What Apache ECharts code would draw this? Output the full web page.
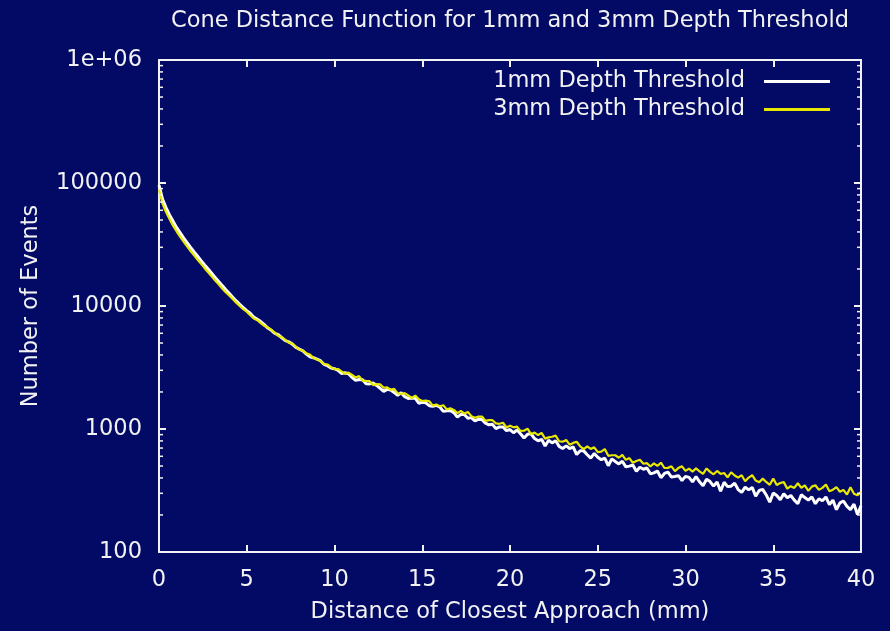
<!DOCTYPE html>
<html>
<head>
<meta charset="utf-8">
<title>Cone Distance Function</title>
<script src="https://cdn.jsdelivr.net/npm/echarts@6/dist/echarts.min.js"></script>
<style>
  html, body { margin: 0; padding: 0; background: #020a66; }
  #chart { width: 890px; height: 631px; }
</style>
</head>
<body>
<div id="chart"></div>
<script>
// Histogram bin width along the distance axis (mm); bin i sits at i * BIN_MM.
const BIN_MM = 0.2;

// Event counts per bin, 1mm depth threshold (0 .. 40 mm).
const counts1mm = [
  96000, 74000, 63000, 55000, 49000, 43500, 39500, 35800, 32800, 30000,
  27500, 25400, 23400, 21600, 20000, 18500, 17100, 15800, 14700, 13600,
  12700, 11800, 11000, 10300, 9700,
  9150, 8737, 8118, 7800, 7474, 7070, 6613, 6350, 5990, 5838,
  5520, 5227, 5111, 4899, 4604, 4460, 4323, 4069, 3871, 3800,
  3697, 3590, 3356, 3270, 3128, 3091,
  3003, 2831, 2863, 2809, 2624, 2484, 2526, 2515, 2335, 2327,
  2362, 2260, 2140, 2024, 2101, 2073, 1984, 1880, 1969, 1832,
  1772, 1785, 1779, 1620, 1650, 1631, 1548, 1531, 1558, 1510,
  1391, 1404, 1416, 1359, 1250, 1316, 1314, 1225, 1237, 1164,
  1199, 1196, 1115, 1081, 1091, 1006, 1039, 1039, 969, 990,
  932, 981, 916, 844, 908, 915, 836, 802, 825, 728,
  810, 771, 802, 722, 694, 729, 694, 714, 620, 667,
  664, 618, 580, 633, 590, 563, 580, 503, 572, 545,
  520, 547, 492, 499, 510, 453, 489, 471, 482, 432,
  440, 456, 402, 435, 446, 407, 411, 418, 381, 412,
  404, 372, 411, 372, 346, 390, 374, 343, 371, 312,
  369, 340, 343, 363, 322, 305, 337, 320, 335, 284,
  316, 323, 291, 254, 302, 288, 266, 298, 276, 288,
  264, 247, 292, 277, 264, 281, 247, 271, 261, 280,
  243, 264, 221, 251, 260, 235, 221, 245, 202, 237
];

// Event counts per bin, 3mm depth threshold (0 .. 40 mm).
const counts3mm = [
  88000, 68000, 58000, 51000, 45000, 40500, 36700, 33400, 30500, 28000,
  25800, 23800, 22000, 20300, 18800, 17400, 16100, 15000, 13900, 12950,
  12200, 11400, 10650, 10000, 9420,
  8989, 8420, 7910, 7676, 7260, 6881, 6706, 6393, 6040, 5712,
  5575, 5290, 5019, 4957, 4660, 4425, 4333, 4120, 4039, 3772,
  3670, 3565, 3366, 3346, 3180, 3059,
  3073, 2937, 2807, 2876, 2749, 2627, 2692, 2473, 2460, 2448,
  2275, 2313, 2304, 2164, 2178, 2086, 2120, 1950, 1926, 1957,
  1878, 1784, 1870, 1742, 1688, 1702, 1682, 1550, 1580, 1530,
  1561, 1443, 1472, 1430, 1346, 1403, 1336, 1376, 1272, 1235,
  1261, 1262, 1166, 1179, 1179, 1112, 1102, 1124, 1028, 1061,
  1032, 1044, 966, 968, 1008, 906, 936, 893, 930, 835,
  855, 865, 883, 795, 789, 814, 746, 771, 788, 723,
  687, 723, 688, 709, 649, 655, 687, 605, 612, 612,
  584, 616, 561, 580, 532, 550, 563, 522, 528, 495,
  526, 501, 532, 482, 483, 497, 454, 483, 497, 456,
  476, 450, 479, 453, 432, 478, 448, 428, 456, 431,
  439, 404, 445, 419, 402, 421, 376, 403, 421, 381,
  369, 395, 371, 352, 395, 351, 364, 370, 327, 343,
  332, 362, 333, 348, 314, 340, 349, 320, 332, 354,
  312, 321, 337, 309, 320, 293, 336, 298, 289, 307
];

// Log-axis minor tick positions (2..9 within each decade).
const yMinorTicks = [
  200, 300, 400, 500, 600, 700, 800, 900,
  2000, 3000, 4000, 5000, 6000, 7000, 8000, 9000,
  20000, 30000, 40000, 50000, 60000, 70000, 80000, 90000,
  200000, 300000, 400000, 500000, 600000, 700000, 800000, 900000
];

const seriesNames = ['1mm Depth Threshold', '3mm Depth Threshold'];
const seriesColors = ['#ffffff', '#e8e800'];
const titleText = 'Cone Distance Function for 1mm and 3mm Depth Threshold';
const xName = 'Distance of Closest Approach (mm)';
const yName = 'Number of Events';

const X_MIN = 0, X_MAX = 40, X_STEP = 5;
const Y_MIN = 100, Y_MAX = 1000000;

const FONT = 'DejaVu Sans';
const FS = 22.5;
const FG = '#f2f2f2';
const BG = '#020a66';

const toPairs = arr => arr.map((v, i) => [+(i * BIN_MM).toFixed(1), v]);

const chart = echarts.init(document.getElementById('chart'), null, { renderer: 'canvas' });

const axisLine = { show: true, onZero: false, lineStyle: { color: FG, width: 2 } };
const majorTick = { show: true, inside: true, length: 7, lineStyle: { color: FG, width: 2 } };

chart.setOption({
  backgroundColor: BG,
  animation: false,
  grid: { left: 159, right: 29, top: 60, bottom: 79, containLabel: false },
  legend: {
    data: [
      { name: seriesNames[0], icon: 'rect', itemStyle: { color: seriesColors[0] } },
      { name: seriesNames[1], icon: 'rect', itemStyle: { color: seriesColors[1] } }
    ],
    orient: 'vertical',
    align: 'right',
    right: 55,
    top: 65,
    itemWidth: 66,
    itemHeight: 3,
    itemGap: 5,
    textStyle: { color: FG, fontFamily: FONT, fontSize: FS, lineHeight: 22, padding: [0, 14, 0, 0] },
    selectedMode: false
  },
  xAxis: [
    {
      type: 'value', min: X_MIN, max: X_MAX, interval: X_STEP,
      position: 'bottom',
      axisLine, axisTick: majorTick,
      axisLabel: { color: FG, fontFamily: FONT, fontSize: FS, margin: 17 },
      splitLine: { show: false }
    },
    {
      type: 'value', min: X_MIN, max: X_MAX, interval: X_STEP,
      position: 'top',
      axisLine, axisTick: majorTick,
      axisLabel: { show: false },
      splitLine: { show: false }
    }
  ],
  yAxis: [
    {
      type: 'log', logBase: 10, min: Y_MIN, max: Y_MAX, splitNumber: 4,
      position: 'left',
      axisLine, axisTick: majorTick,
      axisLabel: {
        color: FG, fontFamily: FONT, fontSize: FS, margin: 17,
        formatter: v => {
          const n = Math.round(v);
          return n === 1000000 ? '1e+06' : String(n);
        }
      },
      splitLine: { show: false }
    },
    {
      type: 'log', logBase: 10, min: Y_MIN, max: Y_MAX, splitNumber: 4,
      position: 'right',
      axisLine, axisTick: majorTick,
      axisLabel: { show: false },
      splitLine: { show: false }
    }
  ],
  graphic: [
    {
      type: 'text', x: 510, y: 21,
      style: { text: titleText, fill: FG, font: `${FS}px "${FONT}"`, align: 'center', verticalAlign: 'middle' }
    },
    {
      type: 'text', x: 510, y: 612,
      style: { text: xName, fill: FG, font: `${FS}px "${FONT}"`, align: 'center', verticalAlign: 'middle' }
    },
    {
      type: 'text', x: 31, y: 306, rotation: Math.PI / 2,
      style: { text: yName, fill: FG, font: `${FS}px "${FONT}"`, align: 'center', verticalAlign: 'middle' }
    }
  ],
  series: [
    {
      name: seriesNames[0],
      type: 'line',
      data: toPairs(counts1mm),
      showSymbol: false, symbol: 'none',
      lineStyle: { color: seriesColors[0], width: 3 },
      itemStyle: { color: seriesColors[0] },
      z: 3
    },
    {
      name: seriesNames[1],
      type: 'line',
      data: toPairs(counts3mm),
      showSymbol: false, symbol: 'none',
      lineStyle: { color: seriesColors[1], width: 2.2 },
      itemStyle: { color: seriesColors[1] },
      z: 4
    },
    {
      // minor ticks on both vertical borders
      type: 'custom',
      silent: true,
      data: yMinorTicks.map(v => [X_MIN, v]),
      encode: { x: 0, y: 1 },
      clip: false,
      z: 5,
      renderItem: (params, api) => {
        const v = api.value(1);
        const l = api.coord([X_MIN, v]);
        const r = api.coord([X_MAX, v]);
        const st = { stroke: FG, lineWidth: 1.5 };
        return {
          type: 'group',
          children: [
            { type: 'line', shape: { x1: l[0], y1: l[1], x2: l[0] + 4, y2: l[1] }, style: st },
            { type: 'line', shape: { x1: r[0], y1: r[1], x2: r[0] - 4, y2: r[1] }, style: st }
          ]
        };
      }
    }
  ]
});
</script>
</body>
</html>
